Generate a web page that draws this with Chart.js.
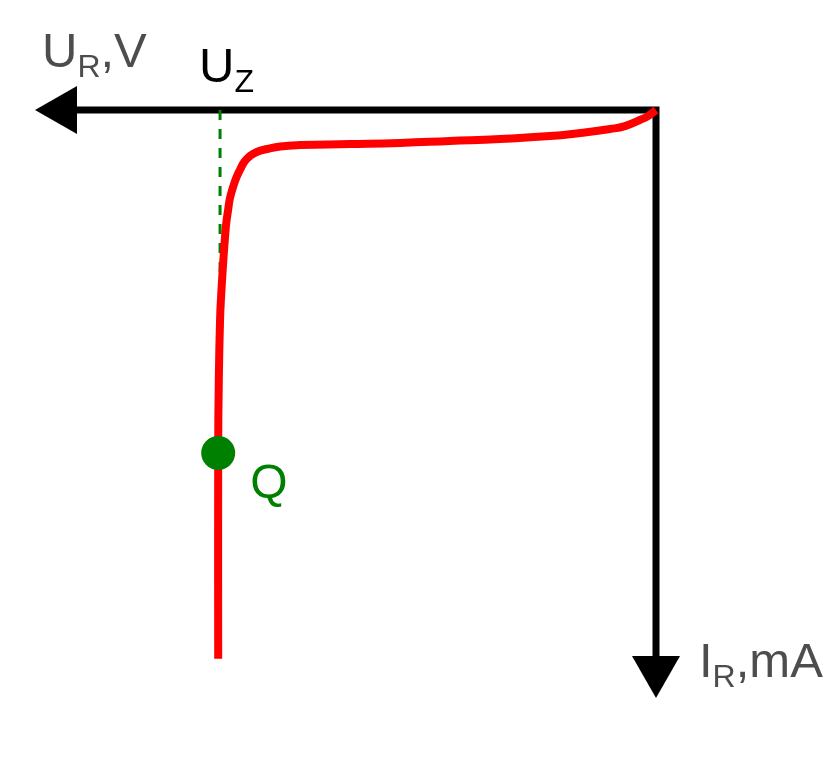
<!DOCTYPE html>
<html>
<head>
<meta charset="utf-8">
<script src="https://cdn.jsdelivr.net/npm/chart.js@4/dist/chart.umd.min.js"></script>
<style>
  html, body { margin: 0; padding: 0; background: #fff; }
  #wrap { width: 828px; height: 781px; position: relative; }
</style>
</head>
<body>
<div id="wrap"><canvas id="zenerChart"></canvas></div>
<script>
// reverse characteristic of a zener diode, U_R in V, I_R in mA
const uR = [0, 0.13, 0.26, 0.50, 0.74, 1.22, 1.71, 2.51, 3.32, 4.12, 4.93, 5.73, 6.05, 6.26, 6.43,
            6.54, 6.63, 6.70, 6.76, 6.81, 6.86, 6.89, 6.92, 6.94, 6.97, 7.00, 7.02, 7.04, 7.05, 7.05];
const iR = [0, 0.31, 0.51, 0.82, 0.97, 1.17, 1.33, 1.48, 1.58, 1.68, 1.74, 1.79, 1.86, 1.99, 2.14,
            2.35, 2.65, 3.06, 3.47, 3.93, 4.49, 5.10, 5.77, 6.48, 7.81, 9.34, 10.71, 13.78, 17.5, 28.0];

const uZ = 7.02;          // breakdown voltage
const uZmarkEnd = 8.9;    // dashed marker runs down to this current
const qPoint = { u: 7.05, i: 17.5 };

const axisMax = { u: 10, i: 30 };

const font = '"Liberation Sans", Arial, sans-serif';

function labelWithSub(ctx, main, sub, rest, x, y, color) {
    ctx.save();
    ctx.fillStyle = color;
    ctx.textBaseline = 'alphabetic';
    ctx.textAlign = 'left';
    ctx.font = '49px ' + font;
    ctx.fillText(main, x, y);
    x += ctx.measureText(main).width;
    ctx.font = '32px ' + font;
    ctx.fillText(sub, x, y + 10);
    x += ctx.measureText(sub).width;
    ctx.font = '49px ' + font;
    if (rest) ctx.fillText(rest, x, y);
    ctx.restore();
}

const axesPlugin = {
    id: 'arrowAxes',
    beforeDatasetsDraw(chart) {
        const ctx = chart.ctx;
        const xs = chart.scales.x, ys = chart.scales.y;
        const ox = xs.getPixelForValue(0), oy = ys.getPixelForValue(0);
        const tipX = xs.getPixelForValue(axisMax.u);
        const tipY = ys.getPixelForValue(axisMax.i);
        const head = 42, half = 24;
        ctx.save();
        ctx.strokeStyle = '#000';
        ctx.fillStyle = '#000';
        ctx.lineWidth = 7;
        ctx.lineJoin = 'miter';
        ctx.beginPath();
        ctx.moveTo(tipX + head - 2, oy);
        ctx.lineTo(ox, oy);
        ctx.lineTo(ox, tipY - head + 2);
        ctx.stroke();
        // left arrow head
        ctx.beginPath();
        ctx.moveTo(tipX, oy);
        ctx.lineTo(tipX + head, oy - half);
        ctx.lineTo(tipX + head, oy + half);
        ctx.closePath();
        ctx.fill();
        // down arrow head
        ctx.beginPath();
        ctx.moveTo(ox, tipY);
        ctx.lineTo(ox - half, tipY - head);
        ctx.lineTo(ox + half, tipY - head);
        ctx.closePath();
        ctx.fill();
        ctx.restore();
    },
    afterDraw(chart) {
        const ctx = chart.ctx;
        const xs = chart.scales.x, ys = chart.scales.y;
        const ox = xs.getPixelForValue(0), oy = ys.getPixelForValue(0);
        const tipX = xs.getPixelForValue(axisMax.u);
        const tipY = ys.getPixelForValue(axisMax.i);
        labelWithSub(ctx, 'U', 'R', ',V', tipX + 7, oy - 43, '#4d4d4d');
        labelWithSub(ctx, 'U', 'Z', '', xs.getPixelForValue(uZ) - 21, oy - 28, '#000');
        labelWithSub(ctx, 'I', 'R', ',mA', ox + 43, tipY - 21, '#4d4d4d');
        ctx.save();
        ctx.fillStyle = '#008000';
        ctx.font = '48px ' + font;
        ctx.fillText('Q', xs.getPixelForValue(qPoint.u) + 32, ys.getPixelForValue(qPoint.i) + 45);
        ctx.restore();
    }
};

new Chart(document.getElementById('zenerChart').getContext('2d'), {
    type: 'scatter',
    data: {
        datasets: [{
            label: 'I_R(U_R)',
            data: uR.map((u, k) => ({ x: u, y: iR[k] })),
            showLine: true,
            borderColor: '#ff0000',
            borderWidth: 8,
            pointRadius: 0,
            tension: 0.5,
            clip: false,
            order: 2
        }, {
            label: 'U_Z',
            data: [{ x: uZ, y: 0 }, { x: uZ, y: uZmarkEnd }],
            showLine: true,
            borderColor: '#008000',
            borderWidth: 3,
            borderDash: [10, 9],
            pointRadius: 0,
            clip: false,
            order: 3
        }, {
            label: 'Q',
            data: [{ x: qPoint.u, y: qPoint.i }],
            pointRadius: 17,
            backgroundColor: '#008000',
            borderWidth: 0,
            clip: false,
            order: 1
        }]
    },
    options: {
        responsive: true,
        maintainAspectRatio: false,
        animation: false,
        layout: { padding: { left: 35, right: 172, top: 110, bottom: 83 } },
        plugins: {
            legend: { display: false },
            tooltip: { enabled: false }
        },
        scales: {
            x: { type: 'linear', reverse: true, min: 0, max: axisMax.u, display: false },
            y: { type: 'linear', reverse: true, min: 0, max: axisMax.i, display: false }
        }
    },
    plugins: [axesPlugin]
});
</script>
</body>
</html>
